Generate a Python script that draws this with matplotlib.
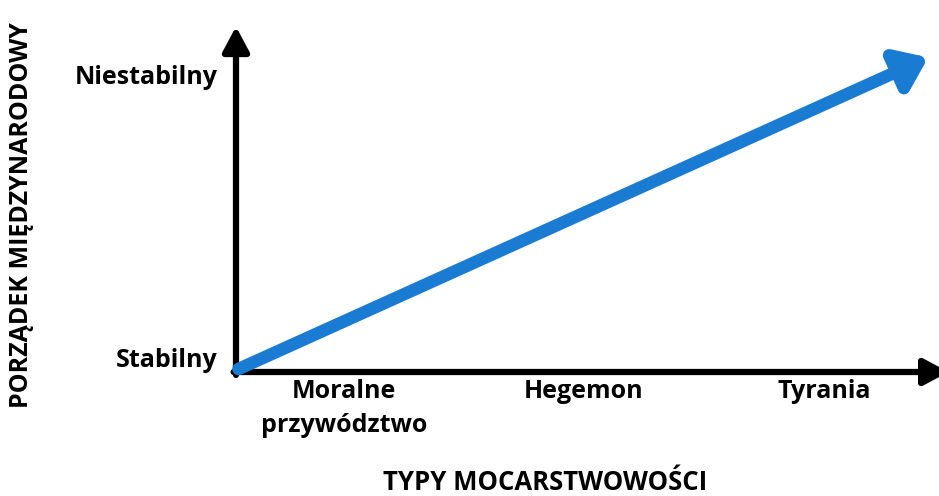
import matplotlib
matplotlib.use("Agg")
import matplotlib.pyplot as plt

# Data
categories = ["Moralne\nprzywództwo", "Hegemon", "Tyrania"]
cat_pos = [0.45, 1.45, 2.45]
levels = ["Stabilny", "Niestabilny"]
level_pos = [0.04, 1.0]
trend_start = (0.01, 0.01)
trend_end = (2.885, 1.07)
x_title = "TYPY MOCARSTWOWOŚCI"
y_title = "PORZĄDEK MIĘDZYNARODOWY"

plt.rcParams['font.family'] = ['Open Sans', 'DejaVu Sans']

fig = plt.figure(figsize=(9.39, 4.96), dpi=100)
ax = fig.add_axes([236/939, 124/496, 703/939, 347/496])
ax.set_xlim(0, 2.93)
ax.set_ylim(0, 347/294)
for s in ax.spines.values():
    s.set_visible(False)
ax.set_xticks([])
ax.set_yticks([])

# axes arrows
ax.annotate("", xy=(0, 1.175), xytext=(0, -0.01), xycoords='data',
            arrowprops=dict(arrowstyle="-|>,head_length=1.5,head_width=0.8",
                            lw=4.5, color="black", shrinkA=0, shrinkB=0),
            annotation_clip=False)
ax.annotate("", xy=(2.97, 0), xytext=(-0.01, 0), xycoords='data',
            arrowprops=dict(arrowstyle="-|>,head_length=1.5,head_width=0.8",
                            lw=4.5, color="black", shrinkA=0, shrinkB=0),
            annotation_clip=False)

# trend arrow
ax.annotate("", xy=trend_end, xytext=trend_start, xycoords='data',
            arrowprops=dict(arrowstyle="-|>,head_length=1.75,head_width=1.3",
                            lw=9, color="#1A7BD3", shrinkA=0, shrinkB=0,
                            joinstyle='round', capstyle='round'),
            annotation_clip=False)

for lab, x in zip(categories, cat_pos):
    ax.text(x, -0.025, lab, ha='center', va='top', fontsize=18,
            fontweight='bold', linespacing=1.45)
for lab, y in zip(levels, level_pos):
    ax.text(-0.075, y, lab, ha='right', va='center', fontsize=18,
            fontweight='bold')

fig.text(545/939, 1 - 483/496, x_title, ha='center', va='center',
         fontsize=18.5, fontweight='bold')
fig.text(22/939, 1 - 215/496, y_title, ha='center', va='center',
         fontsize=18, fontweight='bold', rotation=90)

fig.savefig("out.png", dpi=100)
